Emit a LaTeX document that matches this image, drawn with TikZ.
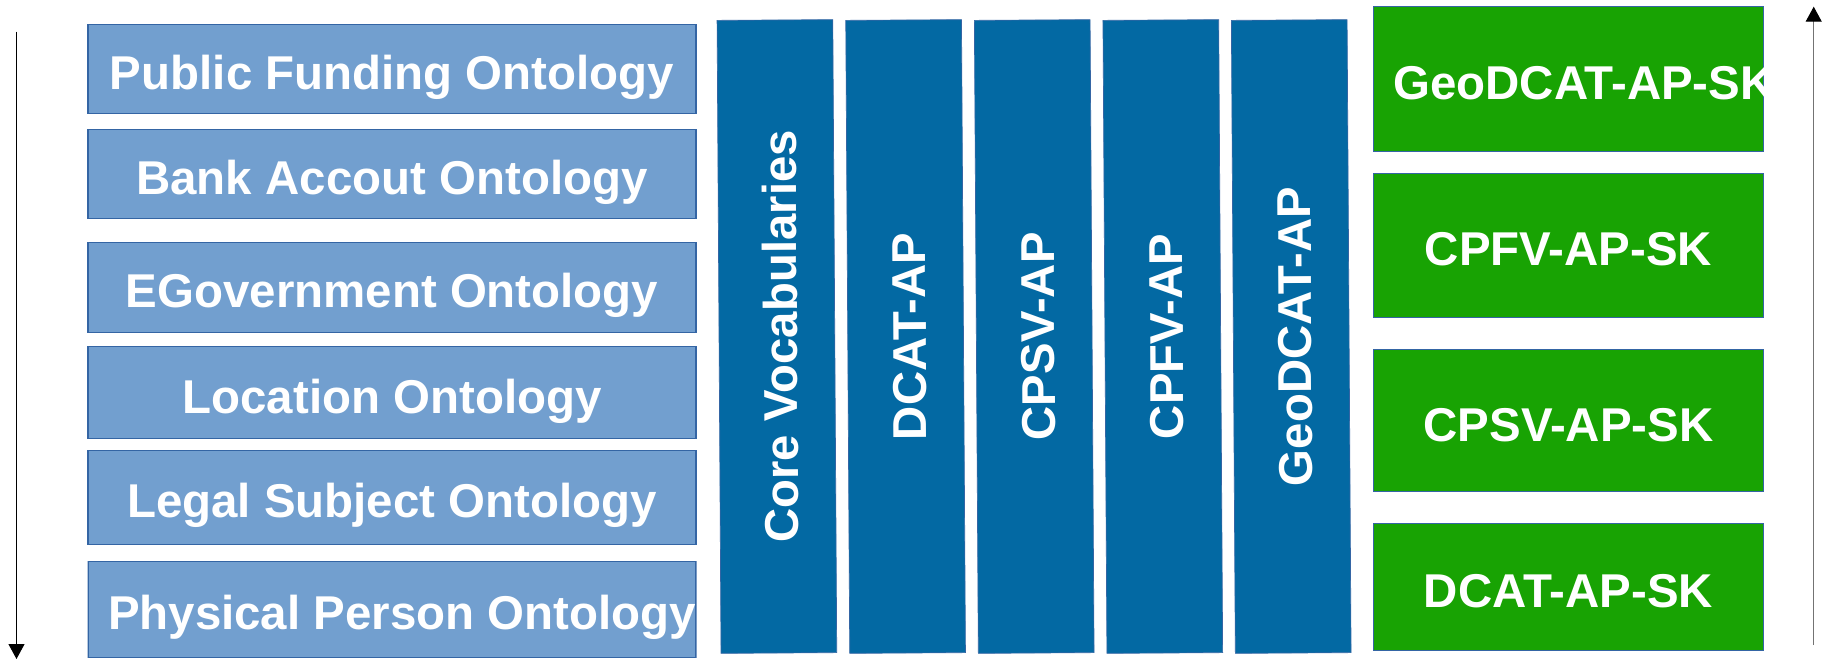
\documentclass[tikz,border=0pt]{standalone}
\usepackage{fontspec}
\setmainfont{Liberation Sans}
\usetikzlibrary{arrows.meta}
\definecolor{ontofill}{HTML}{729FCF}
\definecolor{boxline}{HTML}{3465A4}
\definecolor{vocabfill}{HTML}{0369A3}
\definecolor{skfill}{HTML}{18A303}

\begin{document}
\begin{tikzpicture} [scale = 1,
  whitetext/.style = {font=\fontsize{27pt}{32pt}\selectfont\bfseries, text=white, text height=23.2pt, text depth=0pt},
  ontology/.style = {whitetext, draw=boxline, line width=0.6pt, fill=ontofill, inner xsep=0.4cm, text width=11.36cm, align=flush center},
  vocab/.style = {whitetext, draw=boxline, line width=0.4pt, fill=vocabfill, rotate=90.36, minimum width=12.66cm, minimum height=2.314cm, inner sep=0pt},
  profile/.style = {whitetext, draw=boxline, line width=0.6pt, fill=skfill, inner xsep=0.4cm, text width=7.008cm, align=flush center},
  flow/.style = {line width=0.6pt, -{Triangle[width=0.32cm, length=0.3cm, color=black]}}]
\useasboundingbox (0, 0) rectangle (36.7, 13.18);

% ontologies
\node[ontology, minimum height=1.778cm] (funding) at (7.84, 11.8){\mbox{Public Funding Ontology}};
\node[ontology, minimum height=1.778cm] (bank) at (7.84, 9.693){Bank Accout Ontology};
\node[ontology, minimum height=1.802cm] (egov) at (7.84, 7.433){EGovernment Ontology};
\node[ontology, minimum height=1.85cm] (location) at (7.84, 5.327){Location Ontology};
\node[ontology, minimum height=1.872cm] (legal) at (7.84, 3.232){Legal Subject Ontology};
\begin{scope}
\clip (1.75, 0.02) rectangle (13.93, 1.956);
\node[ontology, minimum height=1.916cm] (person) at (7.84, 0.988){\mbox{Physical Person Ontology}};
\end{scope}

% application profiles
\node[vocab] (core) at (15.538, 6.45){Core Vocabularies};
\node[vocab] (dcat) at (18.112, 6.45){DCAT-AP};
\node[vocab] (cpsv) at (20.684, 6.45){CPSV-AP};
\node[vocab] (cpfv) at (23.256, 6.45){CPFV-AP};
\node[vocab] (geodcat) at (25.824, 6.45){GeoDCAT-AP};

% slovak profiles
\begin{scope}
\clip (27.456, 10.136) rectangle (35.284, 13.056);
\node[profile, minimum height=2.9cm] (geodcatsk) at (31.37, 11.596){\mbox{GeoDCAT-AP-SK}};
\end{scope}
\node[profile, minimum height=2.878cm] (cpfvsk) at (31.37, 8.275){CPFV-AP-SK};
\node[profile, minimum height=2.832cm] (cpsvsk) at (31.37, 4.766){CPSV-AP-SK};
\node[profile, minimum height=2.552cm] (dcatsk) at (31.37, 1.442){DCAT-AP-SK};

% arrows
\coordinate (downstart) at (0.33, 12.546);
\coordinate (downend) at (0.33, 0);
\coordinate (upstart) at (36.274, 0.28);
\coordinate (upend) at (36.274, 13.046);
\draw[flow, black] (downstart) -- (downend);
\draw[flow, black!55] (upstart) -- (upend);
\end{tikzpicture}
\end{document}
